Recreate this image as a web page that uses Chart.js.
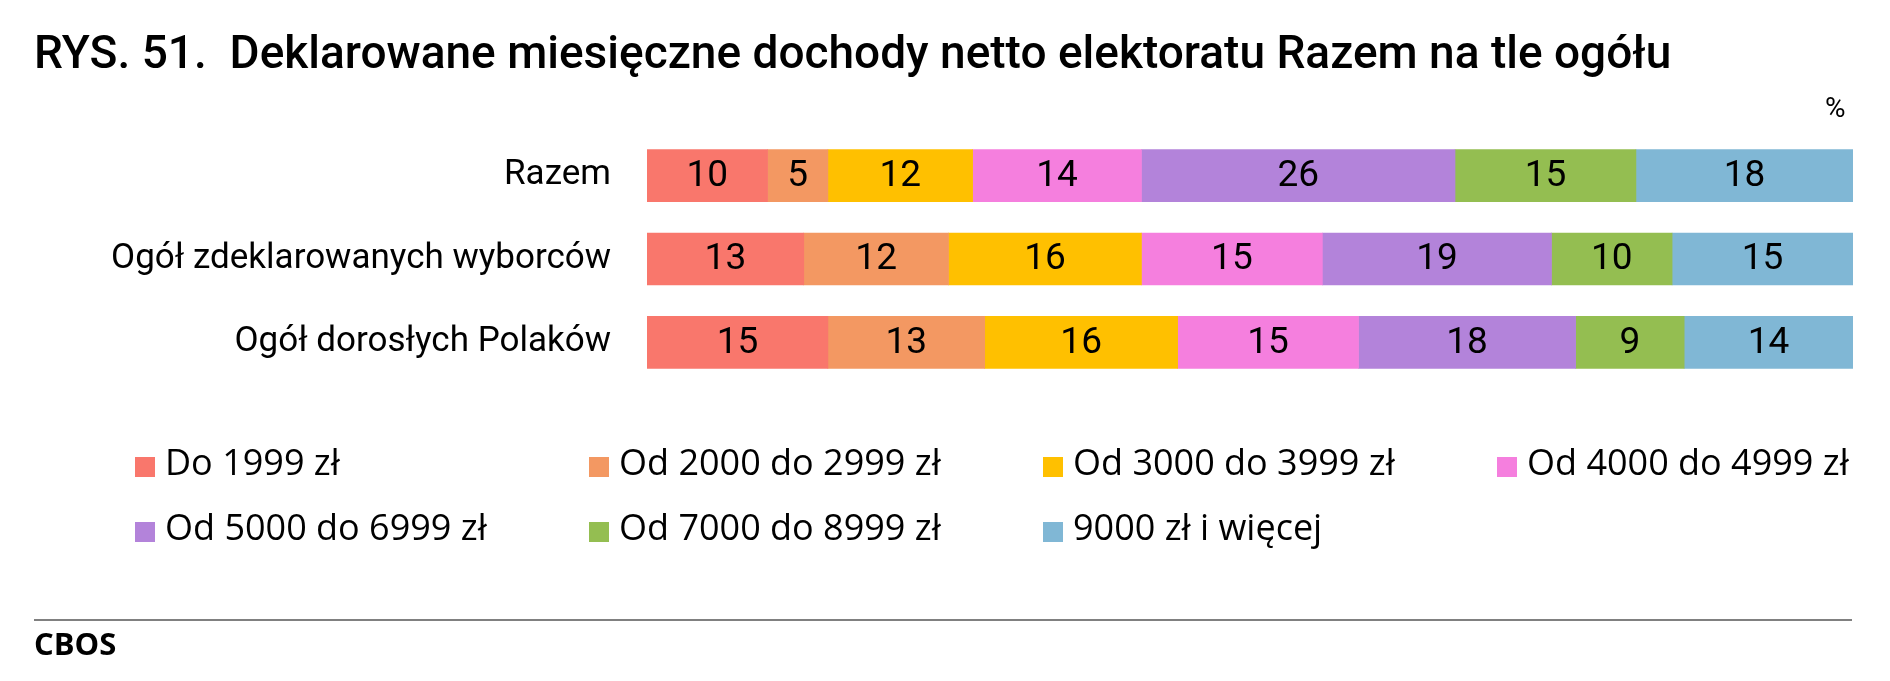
<!DOCTYPE html>
<html lang="pl">
<head>
<meta charset="utf-8">
<title>RYS. 51</title>
<script src="https://cdn.jsdelivr.net/npm/chart.js@4"></script>
<style>
  html, body { margin: 0; padding: 0; background: #fff; }
  #wrap { position: relative; width: 1890px; height: 681px; overflow: hidden; }
  #chartBox { position: absolute; left: 0; top: 0; width: 1890px; height: 681px; }
  .title {
    position: absolute; left: 34px; top: 29px; white-space: pre;
    font: 500 46px/1 Roboto, sans-serif; color: #000;
  }
  .unit { position: absolute; left: 1825px; top: 94px; font: 28px/1 Roboto, sans-serif; color: #000; }
  .legend-item { position: absolute; height: 40px; white-space: nowrap; }
  .legend-item .box { position: absolute; left: 0; top: 12px; width: 20px; height: 20px; }
  .legend-item .txt { position: absolute; left: 30px; top: -1px; font: 36px/1 "Open Sans", sans-serif; color: #000; }
  .rule { position: absolute; left: 34px; top: 619px; width: 1818px; height: 2px; background: #808080; }
  .source { position: absolute; left: 34px; top: 628px; font: 700 31px/1 "Open Sans", sans-serif; color: #000; }
</style>
</head>
<body>
<div id="wrap">
  <div id="chartBox"><canvas id="chart"></canvas></div>
  <div class="title">RYS. 51.  Deklarowane miesięczne dochody netto elektoratu Razem na tle ogółu</div>
  <div class="unit">%</div>
  <div id="legend"></div>
  <div class="rule"></div>
  <div class="source">CBOS</div>
</div>
<script>
// groups (rows of the chart)
const groups = ["Razem", "Ogół zdeklarowanych wyborców", "Ogół dorosłych Polaków"];

// income bands (legend order)
const bands = [
  "Do 1999 zł",
  "Od 2000 do 2999 zł",
  "Od 3000 do 3999 zł",
  "Od 4000 do 4999 zł",
  "Od 5000 do 6999 zł",
  "Od 7000 do 8999 zł",
  "9000 zł i więcej"
];

// values per band, one per group
const do1999 = [10, 13, 15];
const od2000 = [5, 12, 13];
const od3000 = [12, 16, 16];
const od4000 = [14, 15, 15];
const od5000 = [26, 19, 18];
const od7000 = [15, 10, 9];
const od9000 = [18, 15, 14];

const bandColors = ["#F9776C", "#F39862", "#FFC000", "#F57FDE", "#B383DA", "#94BE51", "#80B7D5"];

const values = [do1999, od2000, od3000, od4000, od5000, od7000, od9000];

const datasets = bands.map((name, i) => ({
  label: name,
  data: values[i],
  backgroundColor: bandColors[i],
  borderWidth: 0,
  barThickness: 52,
  stack: "s"
}));

// draws the number in the middle of every segment
const segmentLabels = {
  id: "segmentLabels",
  afterDatasetsDraw(chart) {
    const ctx = chart.ctx;
    ctx.save();
    ctx.font = "37px Roboto, sans-serif";
    ctx.fillStyle = "#000";
    ctx.textAlign = "center";
    ctx.textBaseline = "middle";
    chart.data.datasets.forEach((ds, i) => {
      const meta = chart.getDatasetMeta(i);
      meta.data.forEach((bar, j) => {
        const { x, y, base } = bar.getProps(["x", "y", "base"], true);
        ctx.fillText(String(ds.data[j]), (x + base) / 2, y + 1);
      });
    });
    ctx.restore();
  }
};

new Chart(document.getElementById("chart"), {
  type: "bar",
  data: { labels: groups, datasets },
  options: {
    indexAxis: "y",
    responsive: true,
    maintainAspectRatio: false,
    animation: false,
    layout: { padding: { top: 134, bottom: 297, right: 37, left: 0 } },
    plugins: {
      legend: { display: false },
      tooltip: { enabled: false }
    },
    scales: {
      x: { stacked: true, min: 0, max: 100, display: false },
      y: {
        stacked: true,
        grid: { display: false, drawTicks: false },
        border: { display: false },
        ticks: {
          color: "#000",
          padding: 36,
          font: { family: "Roboto, sans-serif", size: 35 }
        },
        afterFit(scale) { scale.width = 647; }
      }
    }
  },
  plugins: [segmentLabels]
});

// legend: 4 columns
const legendEl = document.getElementById("legend");
bands.forEach((name, i) => {
  const item = document.createElement("div");
  item.className = "legend-item";
  item.style.left = (135 + (i % 4) * 454) + "px";
  item.style.top = (445 + Math.floor(i / 4) * 65) + "px";
  item.innerHTML = '<span class="box" style="background:' + bandColors[i] + '"></span><span class="txt"></span>';
  item.querySelector(".txt").textContent = name;
  legendEl.appendChild(item);
});
</script>
</body>
</html>
